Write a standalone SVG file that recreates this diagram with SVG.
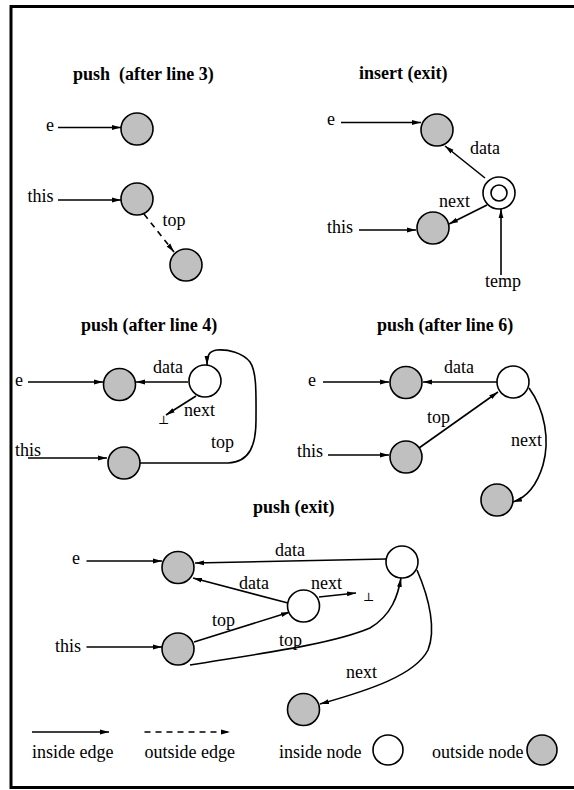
<svg xmlns="http://www.w3.org/2000/svg" width="574" height="790" viewBox="0 0 574 790">
<style>
text{font-family:"Liberation Serif","Times New Roman",serif;font-size:18px;fill:#000}
.t{font-weight:bold}
.bot{font-family:"DejaVu Serif","Liberation Serif",serif;font-size:12px}
.o{fill:#c0c0c0;stroke:#000;stroke-width:1.6}
.i{fill:#fff;stroke:#000;stroke-width:1.6}
.e{fill:none;stroke:#000;stroke-width:1.6;marker-end:url(#ah)}
.d{stroke-dasharray:6 5}
</style>
<defs>
<marker id="ah" markerWidth="10" markerHeight="6" refX="9" refY="3" orient="auto" markerUnits="userSpaceOnUse"><path d="M0,0.6 L9,3 L0,5.4 z" fill="#000"/></marker>
</defs>
<rect x="0" y="0" width="574" height="790" fill="#fff"/>
<rect x="11" y="6.5" width="620" height="781" fill="none" stroke="#000" stroke-width="3"/>

<g id="titles">
<text class="t" x="73" y="80" xml:space="preserve">push  (after line 3)</text>
<text class="t" x="359" y="79">insert (exit)</text>
<text class="t" x="81" y="330.5">push (after line 4)</text>
<text class="t" x="377" y="330.5">push (after line 6)</text>
<text class="t" x="253" y="513">push (exit)</text>
</g>

<g id="connectors">
<!-- panel 1 -->
<path class="e" d="M58,127.5 H121"/>
<path class="e" d="M58,200 H121"/>
<path class="e d" d="M144,214 L174,252"/>
<!-- panel 2 -->
<path class="e" d="M341,122.5 H421"/>
<path class="e" d="M485,178 L445,146"/>
<path class="e" d="M487,205 L449,224"/>
<path class="e" d="M359,230 H416"/>
<path class="e" d="M501,275 V209"/>
<!-- panel 3 -->
<path class="e" d="M28,382 H103"/>
<path class="e" d="M188,382 H136"/>
<path class="e" d="M196,396 L166,415"/>
<path class="e" d="M28,458 H107"/>
<path class="e" d="M140,463 L228,463 C250,462 256,445 256,420 C256,395 257,372 250,362 C243,353 228,349 217,350 C210,351 207,354 207,365"/>
<!-- panel 4 -->
<path class="e" d="M323,382 H389"/>
<path class="e" d="M497,382 H423"/>
<path class="e" d="M328,455 H389"/>
<path class="e" d="M419,448 L498,392"/>
<path class="e" d="M529,388 C545,410 550,440 543,465 C537,485 528,497 513,502"/>
<!-- panel 5 -->
<path class="e" d="M86.5,561 H162"/>
<path class="e" d="M386,559 L195,563"/>
<path class="e" d="M288,603 L193,578"/>
<path class="e" d="M319,597 L356,593"/>
<path class="e" d="M86.5,647 H162"/>
<path class="e" d="M194,642 L290,612"/>
<path class="e" d="M190,665 C250,655 330,645 370,628 C392,615 398,595 401,578"/>
<path class="e" d="M417,570 C430,600 436,630 428,650 C415,675 370,690 320,704"/>
<!-- legend -->
<path class="e" d="M32,732 H109"/>
<path class="e d" d="M144.5,732 H230"/>
</g>

<g id="labels">
<text x="46" y="131">e</text>
<text x="27.5" y="202">this</text>
<text x="162.5" y="226">top</text>
<text x="327" y="125">e</text>
<text x="470" y="154">data</text>
<text x="439" y="206.5">next</text>
<text x="327" y="232.5">this</text>
<text x="485" y="287">temp</text>
<text x="15" y="386">e</text>
<text x="153" y="373">data</text>
<text class="bot" x="158" y="424">⊥</text>
<text x="184" y="416">next</text>
<text x="15" y="456">this</text>
<text x="211" y="448">top</text>
<text x="308" y="386">e</text>
<text x="444" y="373">data</text>
<text x="297" y="457">this</text>
<text x="427" y="423">top</text>
<text x="511" y="446">next</text>
<text x="72" y="564">e</text>
<text x="275" y="556">data</text>
<text x="239" y="588.5">data</text>
<text x="311" y="589">next</text>
<text class="bot" x="363" y="601">⊥</text>
<text x="55" y="652">this</text>
<text x="212" y="626">top</text>
<text x="279" y="646">top</text>
<text x="346" y="677.5">next</text>
<text x="32" y="758">inside edge</text>
<text x="144.5" y="758">outside edge</text>
<text x="279" y="758">inside node</text>
<text x="432" y="758">outside node</text>
</g>

<g id="n1a"><circle class="o" cx="137" cy="129" r="16"/></g>
<g id="n1b"><circle class="o" cx="137" cy="199" r="16"/></g>
<g id="n1c"><circle class="o" cx="186" cy="265" r="16"/></g>
<g id="n2a"><circle class="o" cx="437" cy="130" r="16"/></g>
<g id="n2b"><circle class="i" cx="499" cy="193" r="16"/><circle class="i" cx="499" cy="193" r="8"/></g>
<g id="n2c"><circle class="o" cx="433" cy="228" r="16"/></g>
<g id="n3a"><circle class="o" cx="119.5" cy="384.5" r="16"/></g>
<g id="n3b"><circle class="i" cx="205" cy="381" r="16"/></g>
<g id="n3c"><circle class="o" cx="124" cy="463" r="16"/></g>
<g id="n4a"><circle class="o" cx="406" cy="382.5" r="16"/></g>
<g id="n4b"><circle class="i" cx="513" cy="382" r="16"/></g>
<g id="n4c"><circle class="o" cx="406" cy="457" r="16"/></g>
<g id="n4d"><circle class="o" cx="497" cy="500" r="16"/></g>
<g id="n5a"><circle class="o" cx="178" cy="567.5" r="16"/></g>
<g id="n5b"><circle class="i" cx="402" cy="562" r="16"/></g>
<g id="n5c"><circle class="i" cx="303.5" cy="606" r="16"/></g>
<g id="n5d"><circle class="o" cx="178" cy="649" r="16"/></g>
<g id="n5e"><circle class="o" cx="303.5" cy="709.5" r="16"/></g>
<g id="legend-inside"><circle class="i" cx="388" cy="750" r="15"/></g>
<g id="legend-outside"><circle class="o" cx="542" cy="750" r="15"/></g>
</svg>
